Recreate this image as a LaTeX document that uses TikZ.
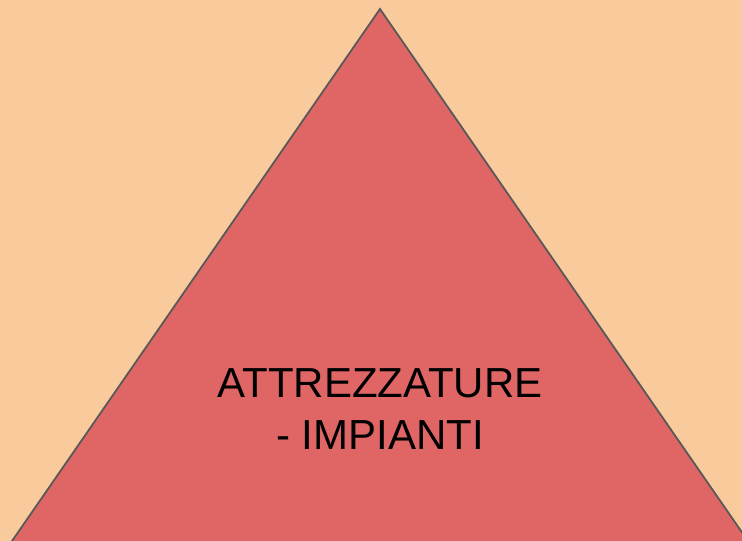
\documentclass[tikz,border=0pt]{standalone}
\usepackage{fontspec}
\setmainfont{Liberation Sans}
\usetikzlibrary{positioning}

\definecolor{peach}{HTML}{F9CB9C}
\definecolor{redlight}{HTML}{E06666}
\definecolor{edgegray}{HTML}{595959}

\begin{document}
\begin{tikzpicture}[
    x=1pt, y=-1pt,
    tri/.style={draw=edgegray, line width=1.8pt, fill=redlight, line join=miter},
    label/.style={font=\fontsize{42}{52}\selectfont, align=center, text=black}
]
    \fill[peach] (0,0) rectangle (742,541);
    \useasboundingbox (0,0) rectangle (742,541);
    \begin{scope}
        \clip (0,0) rectangle (742,541);
        \coordinate (apex) at (380,9);
        \coordinate (bl) at (-35,609);
        \coordinate (br) at (795,609);
        \draw[tri] (apex) -- (br) -- (bl) -- cycle;
    \end{scope}
    \node[label, anchor=base] (txt) at (380,449) {ATTREZZATURE\\- IMPIANTI};
\end{tikzpicture}
\end{document}
